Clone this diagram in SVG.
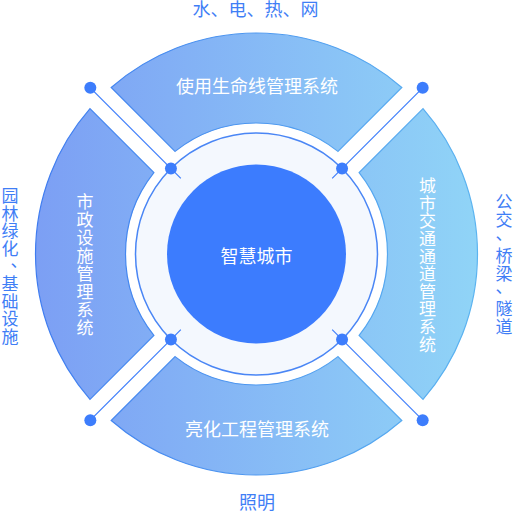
<svg xmlns="http://www.w3.org/2000/svg" width="513" height="511" viewBox="0 0 513 511">
<defs>
<linearGradient id="sg" gradientUnits="userSpaceOnUse" x1="36" y1="0" x2="477" y2="0">
<stop offset="0" stop-color="#7c9ff4"/>
<stop offset="1" stop-color="#90d4f7"/>
</linearGradient>
<linearGradient id="sk" gradientUnits="userSpaceOnUse" x1="36" y1="0" x2="477" y2="0">
<stop offset="0" stop-color="#3f7cf0"/>
<stop offset="1" stop-color="#5cb4f0"/>
</linearGradient>
</defs>
<style>
.sec{fill:url(#sg);stroke:url(#sk);stroke-width:1.2}
.t{font-family:"Noto Sans CJK SC","Noto Sans",sans-serif;font-size:18px}
.v{font-size:17px}
.w{fill:#ffffff}
.b{fill:#3f7ef6}
.m{text-anchor:middle}
.ln{stroke:#3d7dfc;stroke-width:1.2;fill:none}
.dot{fill:#3d7dfc}
</style>
<rect width="513" height="511" fill="#ffffff"/>

<g id="sector-top">
<path class="sec" d="M111.2 87.48 A221 221 0 0 1 401.8 87.48 L337.92 151.37 A131 131 0 0 0 175.08 151.37 Z"/>
<text class="t w m" x="257" y="92.8">使用生命线管理系统</text>
</g>
<g id="sector-right">
<path class="sec" d="M423.02 108.7 A221 221 0 0 1 423.02 399.3 L359.13 335.42 A131 131 0 0 0 359.13 172.58 Z"/>
<text class="t v w m"><tspan x="427.5" y="192.2">城</tspan><tspan x="427.5" y="209.8">市</tspan><tspan x="427.5" y="227.4">交</tspan><tspan x="427.5" y="245">通</tspan><tspan x="427.5" y="262.6">通</tspan><tspan x="427.5" y="280.2">道</tspan><tspan x="427.5" y="297.8">管</tspan><tspan x="427.5" y="315.4">理</tspan><tspan x="427.5" y="333">系</tspan><tspan x="427.5" y="350.6">统</tspan></text>
</g>
<g id="sector-bottom">
<path class="sec" d="M401.8 420.52 A221 221 0 0 1 111.2 420.52 L175.08 356.63 A131 131 0 0 0 337.92 356.63 Z"/>
<text class="t w m" x="257" y="435.8">亮化工程管理系统</text>
</g>
<g id="sector-left">
<path class="sec" d="M89.98 399.3 A221 221 0 0 1 89.98 108.7 L153.87 172.58 A131 131 0 0 0 153.87 335.42 Z"/>
<text class="t v w m"><tspan x="85" y="208.4">市</tspan><tspan x="85" y="226.3">政</tspan><tspan x="85" y="244.2">设</tspan><tspan x="85" y="262.1">施</tspan><tspan x="85" y="280">管</tspan><tspan x="85" y="297.9">理</tspan><tspan x="85" y="315.8">系</tspan><tspan x="85" y="333.7">统</tspan></text>
</g>

<g id="ring">
<circle cx="256.5" cy="254" r="121" fill="#f4f8fe" stroke="#4a86f5" stroke-width="1.5"/>
</g>

<g id="connectors">
<line class="ln" x1="90.33" y1="87.83" x2="180.84" y2="178.34"/>
<line class="ln" x1="422.67" y1="87.83" x2="332.16" y2="178.34"/>
<line class="ln" x1="422.67" y1="420.17" x2="332.16" y2="329.66"/>
<line class="ln" x1="90.33" y1="420.17" x2="180.84" y2="329.66"/>
<circle class="dot" cx="90.33" cy="87.83" r="6"/>
<circle class="dot" cx="422.67" cy="87.83" r="6"/>
<circle class="dot" cx="422.67" cy="420.17" r="6"/>
<circle class="dot" cx="90.33" cy="420.17" r="6"/>
<circle class="dot" cx="170.94" cy="168.44" r="6"/>
<circle class="dot" cx="342.06" cy="168.44" r="6"/>
<circle class="dot" cx="342.06" cy="339.56" r="6"/>
<circle class="dot" cx="170.94" cy="339.56" r="6"/>
</g>

<g id="center">
<circle cx="256.5" cy="254" r="89.5" fill="#3c7cfe"/>
<text class="t w m" x="256.5" y="263.3">智慧城市</text>
</g>

<g id="label-top">
<text class="t b m" x="255.5" y="15.8">水、电、热、网</text>
</g>
<g id="label-bottom">
<text class="t b m" x="257" y="508.5">照明</text>
</g>
<g id="label-left">
<text class="t v b m"><tspan x="10" y="202.2">园</tspan><tspan x="10" y="219.8">林</tspan><tspan x="10" y="237.4">绿</tspan><tspan x="10" y="255">化</tspan><tspan x="10" y="290.2">基</tspan><tspan x="10" y="307.8">础</tspan><tspan x="10" y="325.4">设</tspan><tspan x="10" y="343">施</tspan></text>
<text class="t v b" x="10.5" y="267">、</text>
</g>
<g id="label-right">
<text class="t v b m"><tspan x="504" y="208.3">公</tspan><tspan x="504" y="226.1">交</tspan><tspan x="504" y="261.7">桥</tspan><tspan x="504" y="279.5">梁</tspan><tspan x="504" y="315.1">隧</tspan><tspan x="504" y="332.9">道</tspan></text>
<text class="t v b" x="495.5" y="240">、</text>
<text class="t v b" x="495.5" y="293">、</text>
</g>
</svg>
